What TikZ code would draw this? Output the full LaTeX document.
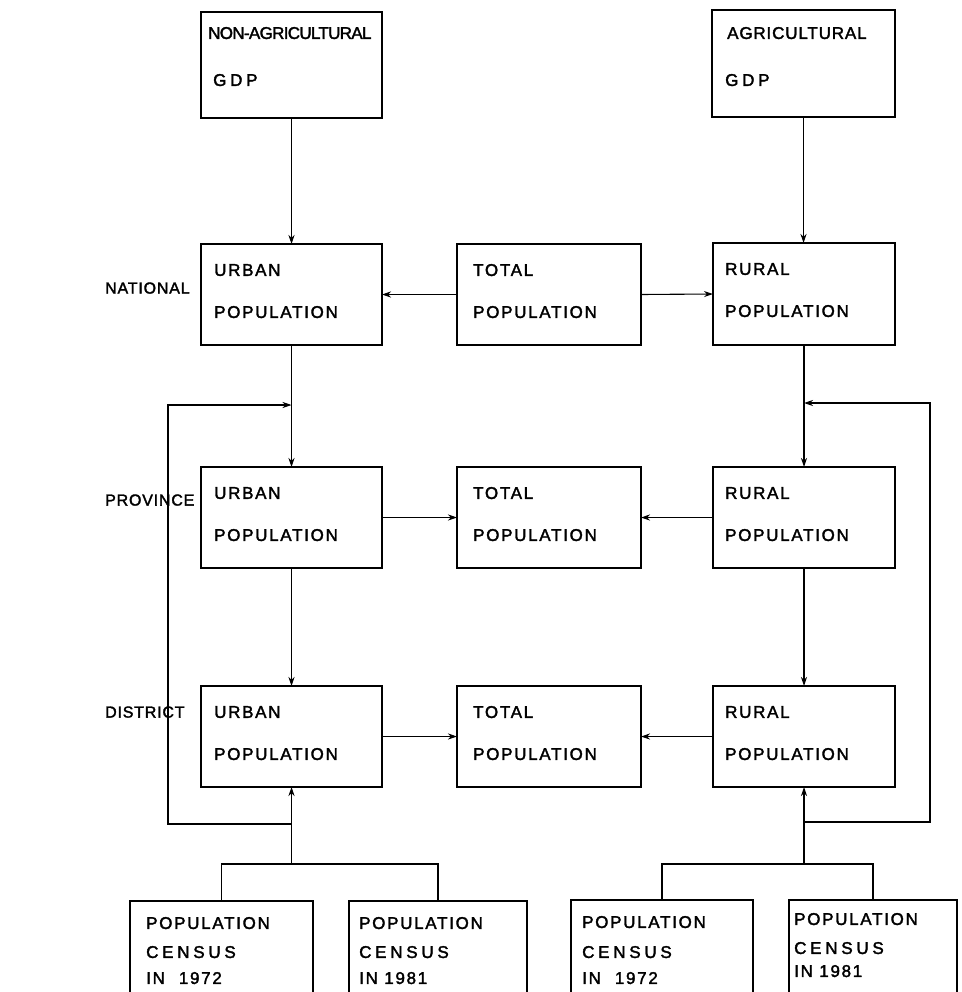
\documentclass[tikz,border=0pt]{standalone}
\usepackage{fontspec}
\setmainfont{Liberation Sans}
\newfontfamily\fA[LetterSpace=10,FakeBold=2]{Liberation Sans}
\newfontfamily\fB[LetterSpace=22,FakeBold=2]{Liberation Sans}
\newfontfamily\fC[LetterSpace=-4,FakeBold=2]{Liberation Sans}
\newfontfamily\fD[LetterSpace=5,FakeBold=2]{Liberation Sans}
\usetikzlibrary{arrows.meta,calc}
\begin{document}
\begin{tikzpicture}[x=1pt,y=-1pt,
  box/.style 2 args={draw, line width=1.5pt, minimum width=#1, minimum height=#2, anchor=north west, inner sep=0pt, outer sep=0pt},
  txt/.style={anchor=west, inner sep=0pt, text depth=0pt, font=\fontsize{17}{18}\fA},
  wide/.style={font=\fontsize{17}{18}\fB},
  tight/.style={font=\fontsize{17}{18}\fC},
  mild/.style={font=\fontsize{17}{18}\fD},
  lvl/.style={anchor=west, inner sep=0pt, text depth=0pt, font=\fontsize{16}{18}\fD},
  arr/.style={line width=1.1pt, -{Stealth[length=9pt,width=6pt]}},
  ln/.style={line width=1.1pt}]
\useasboundingbox (0,0) rectangle (961,992);
\clip (0,0) rectangle (961,992);
\fill[white] (0,0) rectangle (961,992);

% top boxes
\node[box={181pt}{106pt}] (nag) at (201,12) {};
\node[box={183pt}{107pt}] (ag) at (712,10) {};
\node[txt,tight] (nag1) at ($(nag.north west)+(7,21)$) {NON-AGRICULTURAL};
\node[txt,wide] (nag2) at ($(nag.north west)+(12,68)$) {GDP};
\node[txt,mild] (ag1) at ($(ag.north west)+(15,23)$) {AGRICULTURAL};
\node[txt,wide] (ag2) at ($(ag.north west)+(13,70)$) {GDP};

% level labels
\node[lvl] (lnat) at (105,288) {NATIONAL};
\node[lvl] (lpro) at (105,500) {PROVINCE};
\node[lvl] (ldis) at (105,712) {DISTRICT};

% national
\node[box={181pt}{101pt}] (nu) at (201,244) {};
\node[box={184pt}{101pt}] (nt) at (457,244) {};
\node[box={182pt}{102pt}] (nr) at (713,243) {};
% province
\node[box={181pt}{101pt}] (pu) at (201,467) {};
\node[box={184pt}{101pt}] (pt) at (457,467) {};
\node[box={182pt}{101pt}] (pr) at (713,467) {};
% district
\node[box={181pt}{101pt}] (du) at (201,686) {};
\node[box={184pt}{101pt}] (dt) at (457,686) {};
\node[box={182pt}{101pt}] (dr) at (713,686) {};

\foreach \b/\w/\dx in {nu/URBAN/13, pu/URBAN/13, du/URBAN/13, nt/TOTAL/16, pt/TOTAL/16, dt/TOTAL/16, nr/RURAL/12, pr/RURAL/12, dr/RURAL/12}{
  \node[txt] (\b1) at ($(\b.north west)+(\dx,26)$) {\w};
  \node[txt] (\b2) at ($(\b.north west)+(\dx,68)$) {POPULATION};
}

% census boxes
\node[box={183pt}{110pt}] (c1) at (130,901) {};
\node[box={178pt}{110pt}] (c2) at (349,901) {};
\node[box={182pt}{110pt}] (c3) at (571,900) {};
\node[box={168pt}{110pt}] (c4) at (789,900) {};
\node[txt] (c1a) at ($(c1.north west)+(16,22)$) {POPULATION};
\node[txt,wide] (c1b) at ($(c1.north west)+(16,51)$) {CENSUS};
\node[txt] (c1c) at ($(c1.north west)+(16,77)$) {IN\hspace{14pt}1972};
\node[txt] (c2a) at ($(c2.north west)+(10,22)$) {POPULATION};
\node[txt,wide] (c2b) at ($(c2.north west)+(10,51)$) {CENSUS};
\node[txt] (c2c) at ($(c2.north west)+(10,77)$) {IN 1981};
\node[txt] (c3a) at ($(c3.north west)+(11,22)$) {POPULATION};
\node[txt,wide] (c3b) at ($(c3.north west)+(11,52)$) {CENSUS};
\node[txt] (c3c) at ($(c3.north west)+(11,78)$) {IN\hspace{14pt}1972};
\node[txt] (c4a) at ($(c4.north west)+(5,19)$) {POPULATION};
\node[txt,wide] (c4b) at ($(c4.north west)+(5,48)$) {CENSUS};
\node[txt] (c4c) at ($(c4.north west)+(5,71)$) {IN 1981};

% vertical flow
\draw[arr] (nag.south) -- (nu.north);
\draw[arr] (ag.south) -- (ag.south |- nr.north);
\draw[arr] (nu.south) -- (pu.north);
\draw[arr] (pu.south) -- (du.north);
\draw[arr] (nr.south) -- (pr.north);
\draw[arr] (pr.south) -- (dr.north);

% horizontal flow
\draw[arr] (nt.west) -- (nu.east);
\draw[arr] (nt.east) -- (nr.west);
\draw[arr] (pu.east) -- (pt.west);
\draw[arr] (pr.west) -- (pt.east);
\draw[arr] (du.east) -- (dt.west);
\draw[arr] (dr.west) -- (dt.east);

% census connectors
\coordinate (lh) at (du.south |- 0,864);
\coordinate (rh) at (dr.south |- 0,864);
\draw[ln] (c1.north) -- (c1.north |- lh) -- (c2.north |- lh) -- (c2.north);
\draw[ln] (c3.north) -- (c3.north |- rh) -- (c4.north |- rh) -- (c4.north);
\draw[arr] (lh) -- (du.south);
\draw[arr] (rh) -- (dr.south);

% feedback loops
\coordinate (fl0) at (du.south |- 0,824);
\coordinate (fl1) at (168,824);
\coordinate (fl2) at (168,405);
\coordinate (fl3) at (nu.south |- 0,405);
\draw[arr] (fl0) -- (fl1) -- (fl2) -- (fl3);
\coordinate (fr0) at (dr.south |- 0,822);
\coordinate (fr1) at (930,822);
\coordinate (fr2) at (930,403);
\coordinate (fr3) at (nr.south |- 0,403);
\draw[arr] (fr0) -- (fr1) -- (fr2) -- (fr3);
\end{tikzpicture}
\end{document}
